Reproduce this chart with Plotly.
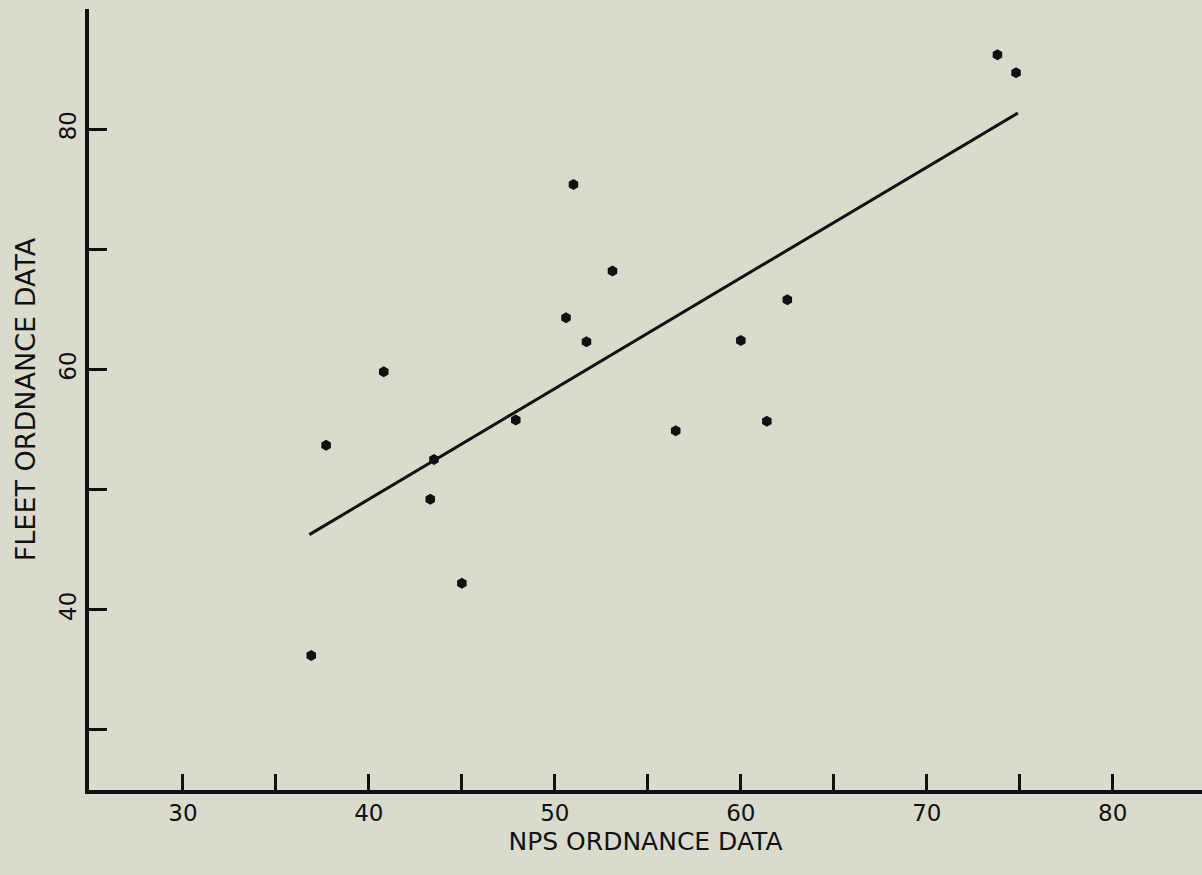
import plotly.graph_objects as go

# NPS vs fleet ordnance data
nps = [36.9, 37.7, 40.8, 43.3, 43.5, 45.0, 47.9, 50.6, 51.0, 51.7, 53.1,
       56.5, 60.0, 61.4, 62.5, 73.8, 74.8]
fleet = [36.2, 53.7, 59.8, 49.2, 52.5, 42.2, 55.8, 64.3, 75.4, 62.3, 68.2,
         54.9, 62.4, 55.7, 65.8, 86.2, 84.7]

# fitted line
fit_x = [36.8, 74.9]
fit_slope = 0.921
fit_intercept = 12.36
fit_y = [fit_slope * v + fit_intercept for v in fit_x]

x_tickvals = [30, 35, 40, 45, 50, 55, 60, 65, 70, 75, 80]
x_ticktext = ["30", "", "40", "", "50", "", "60", "", "70", "", "80"]
y_tickvals = [30, 40, 50, 60, 70, 80, 90]
y_ticktext = ["", "40", "", "60", "", "80", ""]

bg = "#dadbcc"
ink = "#111111"
font = dict(family="DejaVu Sans, Arial, sans-serif", size=23, color=ink)

fig = go.Figure()
fig.add_trace(go.Scatter(x=fit_x, y=fit_y, mode="lines",
                         line=dict(color=ink, width=3),
                         hoverinfo="skip", showlegend=False))
fig.add_trace(go.Scatter(x=nps, y=fleet, mode="markers",
                         marker=dict(symbol="hexagon", size=11, color=ink,
                                     line=dict(width=0)),
                         showlegend=False))

fig.update_layout(
    width=1202, height=875,
    paper_bgcolor=bg, plot_bgcolor=bg,
    margin=dict(l=89, r=0, t=9, b=85),
    font=font,
    xaxis=dict(range=[24.95, 84.8], tickvals=x_tickvals, ticktext=x_ticktext,
               ticks="inside", ticklen=16, tickwidth=2.5, tickcolor=ink,
               showline=True, linewidth=3.5, linecolor=ink,
               showgrid=False, zeroline=False, mirror=False,
               title=dict(text="NPS ORDNANCE DATA", standoff=8,
                          font=dict(size=25))),
    yaxis=dict(range=[25, 90], tickvals=y_tickvals, ticktext=y_ticktext,
               ticks="inside", ticklen=18, tickwidth=2.5, tickcolor=ink,
               tickangle=-90,
               showline=True, linewidth=3.5, linecolor=ink,
               showgrid=False, zeroline=False, mirror=False,
               title=dict(text="FLEET ORDNANCE DATA", standoff=13,
                          font=dict(size=27))),
)

fig.write_html("out.html", config={"displayModeBar": False},
               post_script="document.body.style.margin='0';")
